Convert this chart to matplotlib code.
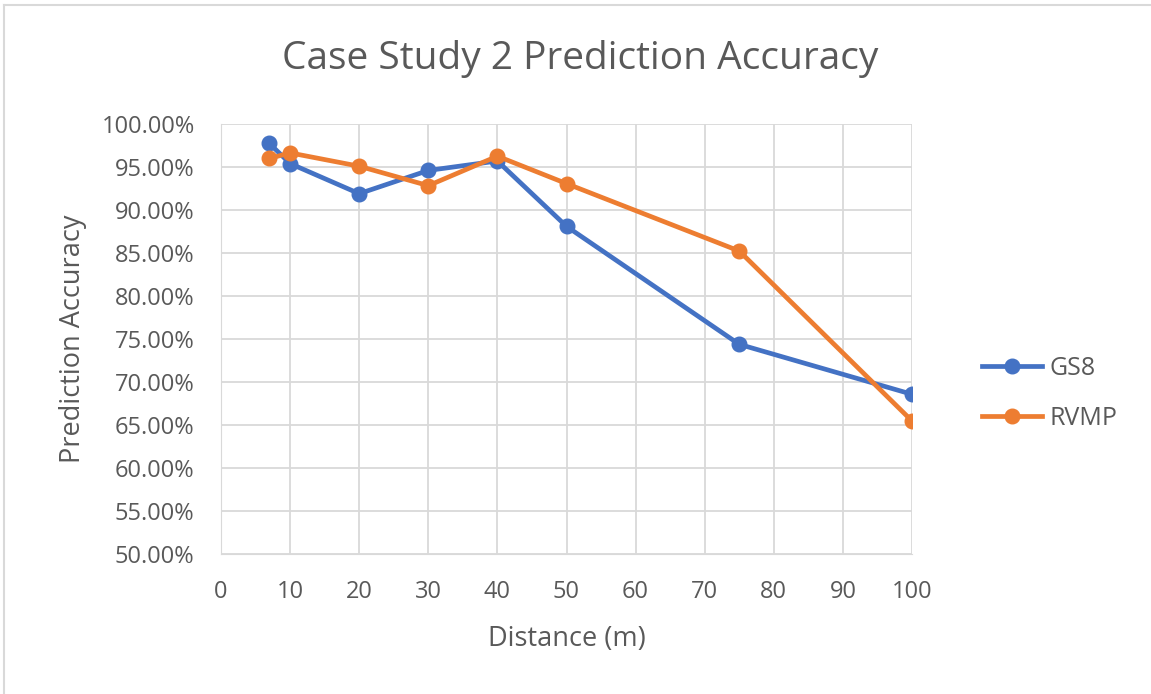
import matplotlib
matplotlib.use("Agg")
import matplotlib.pyplot as plt
from matplotlib.lines import Line2D
from matplotlib.ticker import FuncFormatter, MultipleLocator

distance = [7, 10, 20, 30, 40, 50, 75, 100]
gs8 = [97.74, 95.4, 91.9, 94.6, 95.7, 88.1, 74.38, 68.57]
rvmp = [95.99, 96.64, 95.09, 92.83, 96.26, 93.07, 85.23, 65.47]
series_names = ["GS8", "RVMP"]
title = "Case Study 2 Prediction Accuracy"
xlabel = "Distance (m)"
ylabel = "Prediction Accuracy"

plt.rcParams['font.family'] = ['Open Sans', 'DejaVu Sans']
text_color = "#595959"
grid_color = "#D9D9D9"

W, H = 1151, 694
fig = plt.figure(figsize=(W / 100, H / 100), dpi=100)
ax = fig.add_axes([221 / W, 1 - 554 / H, (912 - 221) / W, (554 - 124) / H])

ax.plot(distance, gs8, color="#4472C4", lw=3.4, marker="o", ms=10.5, label=series_names[0], zorder=3)
ax.plot(distance, rvmp, color="#ED7D31", lw=3.4, marker="o", ms=10.5, label=series_names[1], zorder=4)

ax.set_xlim(0, 100)
ax.set_ylim(50, 100)
ax.xaxis.set_major_locator(MultipleLocator(10))
ax.yaxis.set_major_locator(MultipleLocator(5))
ax.yaxis.set_major_formatter(FuncFormatter(lambda v, p: f"{v:.2f}%"))
ax.grid(True, color=grid_color, lw=1.3, zorder=0)
for s in ax.spines.values():
    s.set_visible(False)
ax.spines['left'].set_visible(True)
ax.spines['left'].set_color(grid_color)
ax.spines['bottom'].set_visible(True)
ax.spines['bottom'].set_color(grid_color)
ax.tick_params(axis='y', length=0, labelsize=17, colors=text_color, pad=19)
ax.tick_params(axis='x', length=0, labelsize=17, colors=text_color, pad=19)
ax.set_xlabel(xlabel, fontsize=19.5, color=text_color, labelpad=15)
ax.set_ylabel(ylabel, fontsize=19.5, color=text_color, labelpad=10)
fig.text(580 / W, 1 - 59 / H, title, ha="center", va="center", fontsize=28, color=text_color)

leg = ax.legend(loc="center left", bbox_to_anchor=(982 / W, 1 - 393 / H), bbox_transform=fig.transFigure,
                frameon=False, fontsize=18, labelcolor=text_color, handlelength=2.4,
                labelspacing=1.0, handletextpad=0.3, borderpad=0, borderaxespad=0)

# chart-area border (top and left edges visible)
fig.add_artist(Line2D([4 / W, 4 / W], [0, 1 - 5 / H], transform=fig.transFigure, color=grid_color, lw=1.5))
fig.add_artist(Line2D([4 / W, 1], [1 - 5 / H, 1 - 5 / H], transform=fig.transFigure, color=grid_color, lw=1.5))

fig.savefig("out.png", dpi=100, facecolor="white")
